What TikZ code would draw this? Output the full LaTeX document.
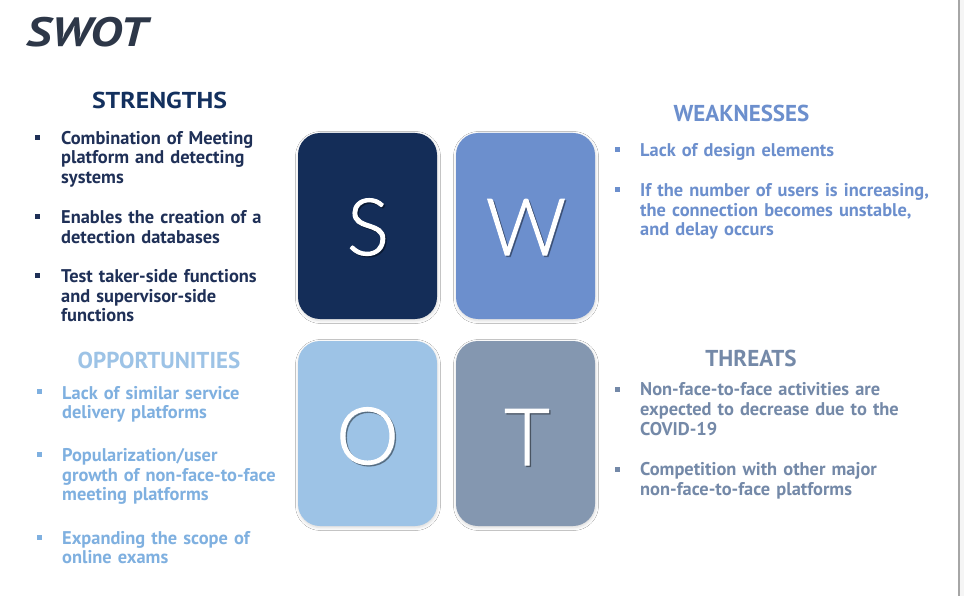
\documentclass[tikz,border=0pt]{standalone}
\usepackage{fontspec}
\usetikzlibrary{shadows.blur}
\newfontfamily\bodyfont{PT Sans}
\newfontfamily\widefont[FakeStretch=1.12]{PT Sans}
\newfontfamily\titlefont[FakeStretch=1.2]{PT Sans}
\newfontfamily\letterfont[FakeBold=1.3]{Lato Light}

\definecolor{sBox}{HTML}{142D58}
\definecolor{wBox}{HTML}{6C8FCD}
\definecolor{oBox}{HTML}{9DC3E6}
\definecolor{tBox}{HTML}{8497B0}
\definecolor{titleInk}{HTML}{2D3748}
\definecolor{sHead}{HTML}{13305E}
\definecolor{sInk}{HTML}{1F3057}
\definecolor{wInk}{HTML}{6C8FCD}
\definecolor{oHead}{HTML}{9DC3E6}
\definecolor{oInk}{HTML}{7FB0E0}
\definecolor{tInk}{HTML}{7489A8}

\tikzset{
  quad/.style={rounded corners=22pt, draw=none,
    blur shadow={shadow xshift=0.5pt, shadow yshift=-1.5pt, shadow blur radius=3pt, shadow opacity=16}},
  letter/.style={anchor=base, inner sep=0pt, text=white,
    font=\letterfont\fontsize{79}{79}\selectfont},
  lettershade/.style={anchor=base, inner sep=0pt, text=black, opacity=0.3,
    font=\letterfont\fontsize{79}{79}\selectfont},
  heading/.style={anchor=base, inner sep=0pt,
    font=\bodyfont\bfseries\fontsize{23}{25}\selectfont},
  para/.style={anchor=base west, inner sep=0pt, align=left, text width=330pt,
    font=\bodyfont\bfseries\fontsize{18.4}{19.6}\selectfont},
  bullet/.style={rectangle, minimum size=5pt, inner sep=0pt, draw=none},
}

\begin{document}
\begin{tikzpicture}[x=1pt, y=-1pt]
  % page
  \fill[white] (0,0) rectangle (964,596);
  \useasboundingbox (0,0) rectangle (964,596);
  \fill[black!4] (960,0) rectangle (964,596);
  \draw[black!35, line width=1.5pt] (959.2,0) -- (959.2,596);

  % title
  \node[anchor=base west, inner sep=0pt, text=titleInk,
        font=\titlefont\bfseries\itshape\fontsize{41}{41}\selectfont]
        (title) at (26,47) {SWOT};

  % the four quadrant tiles
  \fill[quad, sBox] (298,133) rectangle (437,319);
  \fill[quad, wBox] (456,133) rectangle (595,319);
  \fill[quad, oBox] (298,341) rectangle (437,526);
  \fill[quad, tBox] (456,341) rectangle (595,526);

  \node[lettershade] (sS) at (369.5,256.5) {S};
  \node[letter] (lS) at (368,255) {S};
  \node[lettershade] (sW) at (527.5,256.5) {W};
  \node[letter] (lW) at (526,255) {W};
  \node[lettershade] (sO) at (369,465.5) {O};
  \node[letter] (lO) at (367.5,464) {O};
  \node[lettershade] (sT) at (528.5,466.5) {T};
  \node[letter] (lT) at (527,465) {T};

  % strengths
  \node[heading, text=sHead, font=\widefont\bfseries\fontsize{23}{25}\selectfont]
       (hS) at (159.5,109) {STRENGTHS};
  \node[bullet, fill=sInk] (bS1) at (37,137.5) {};
  \node[para, text=sInk] (pS1) at (61,144.3) {Combination of Meeting\\platform and detecting\\systems};
  \node[bullet, fill=sInk] (bS2) at (37,216.7) {};
  \node[para, text=sInk] (pS2) at (61,223.5) {Enables the creation of a\\detection databases};
  \node[bullet, fill=sInk] (bS3) at (37,275.7) {};
  \node[para, text=sInk] (pS3) at (61,282.5) {Test taker-side functions\\and supervisor-side\\functions};

  % weaknesses
  \node[heading, text=wInk] (hW) at (741.5,121.7) {WEAKNESSES};
  \node[bullet, fill=wInk] (bW1) at (617.7,150) {};
  \node[para, text=wInk] (pW1) at (640,156.5) {Lack of design elements};
  \node[bullet, fill=wInk] (bW2) at (617.7,190) {};
  \node[para, text=wInk] (pW2) at (640,196.8) {If the number of users is increasing,\\the connection becomes unstable,\\and delay occurs};

  % opportunities
  \node[heading, text=oHead] (hO) at (159,368.3) {OPPORTUNITIES};
  \node[bullet, fill=oInk] (bO1) at (39.3,391.7) {};
  \node[para, text=oInk] (pO1) at (62,399) {Lack of similar service\\delivery platforms};
  \node[bullet, fill=oInk] (bO2) at (39.3,454.3) {};
  \node[para, text=oInk] (pO2) at (62,461.4) {Popularization/user\\growth of non-face-to-face\\meeting platforms};
  \node[bullet, fill=oInk] (bO3) at (39.3,537) {};
  \node[para, text=oInk] (pO3) at (62,544) {Expanding the scope of\\online exams};

  % threats
  \node[heading, text=tInk] (hT) at (751,366.7) {THREATS};
  \node[bullet, fill=tInk] (bT1) at (617.7,389) {};
  \node[para, text=tInk] (pT1) at (640,395.8) {Non-face-to-face activities are\\expected to decrease due to the\\COVID-19};
  \node[bullet, fill=tInk] (bT2) at (617.7,469) {};
  \node[para, text=tInk] (pT2) at (640,475.8) {Competition with other major\\non-face-to-face platforms};
\end{tikzpicture}
\end{document}
